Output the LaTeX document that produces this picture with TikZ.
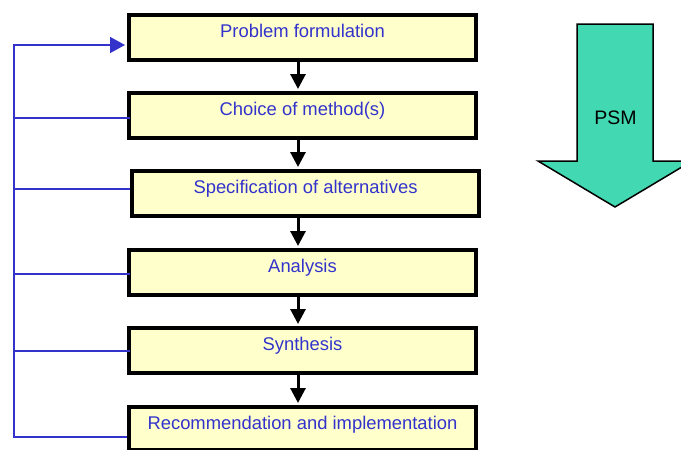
\documentclass[tikz,border=0pt]{standalone}
\usepackage{fontspec}
\setmainfont{Liberation Sans}
\usetikzlibrary{arrows.meta}
\definecolor{boxfill}{RGB}{255,255,204}
\definecolor{stepblue}{RGB}{51,51,204}
\definecolor{psmgreen}{RGB}{66,217,178}
\begin{document}
\begin{tikzpicture}[x=1pt,y=-1pt,
  stagebox/.style={draw=black, line width=4pt, fill=boxfill, anchor=north west,
    minimum width=347pt, inner sep=0pt, text height=22pt, text depth=23pt,
    text=stepblue, font=\fontsize{18.4}{22}\selectfont},
  flow/.style={line width=3pt, shorten >=2pt, -{Triangle[width=15pt,length=15pt]}},
  loopline/.style={draw=stepblue, line width=1.5pt}]
\useasboundingbox (0,0) rectangle (681,450);
\clip (0,0) rectangle (681,450);

% process stages
\node[stagebox] (b1) at (127,13)  {Problem formulation};
\node[stagebox] (b2) at (127,91)  {Choice of method(s)};
\node[stagebox] (b3) at (130,169) {Specification of alternatives};
\node[stagebox] (b4) at (127,248) {Analysis};
\node[stagebox] (b5) at (127,326) {Synthesis};
\node[stagebox, text depth=21pt] (b6) at (127,405) {Recommendation and implementation};

% downward flow between stages
\coordinate (axis) at (298,0);
\draw[flow] (b1.south -| axis) -- (b2.north -| axis);
\draw[flow] (b2.south -| axis) -- (b3.north -| axis);
\draw[flow] (b3.south -| axis) -- (b4.north -| axis);
\draw[flow] (b4.south -| axis) -- (b5.north -| axis);
\draw[flow] (b5.south -| axis) -- (b6.north -| axis);

% feedback loop on the left
\coordinate (bus) at (14,0);
\coordinate (e1) at ([xshift=-2pt,yshift=-7.5pt]b1.west);
\coordinate (e2) at ([xshift=3pt,yshift=-2.5pt]b2.west);
\coordinate (e3) at ([xshift=0pt,yshift=4.5pt]b3.west);
\coordinate (e4) at ([xshift=3pt,yshift=-1.5pt]b4.west);
\coordinate (e5) at ([xshift=3pt,yshift=-0.5pt]b5.west);
\coordinate (e6) at ([xshift=0pt,yshift=-8.5pt]b6.west);
\draw[loopline, -{Triangle[width=16pt,length=15pt]}]
  (e6) -- (e6 -| bus) -- (e1 -| bus) -- (e1);
\draw[loopline] (e2) -- (e2 -| bus);
\draw[loopline] (e3) -- (e3 -| bus);
\draw[loopline] (e4) -- (e4 -| bus);
\draw[loopline] (e5) -- (e5 -| bus);

% PSM block arrow
\draw[fill=psmgreen, line width=1.5pt]
  (577,24) -- (653,24) -- (653,161) -- (692,161) -- (615,207)
  -- (538,161) -- (577,161) -- cycle;
\node[font=\fontsize{19.5}{22}\selectfont, anchor=base, inner sep=0pt] (psm) at (615.5,124) {PSM};
\end{tikzpicture}
\end{document}
